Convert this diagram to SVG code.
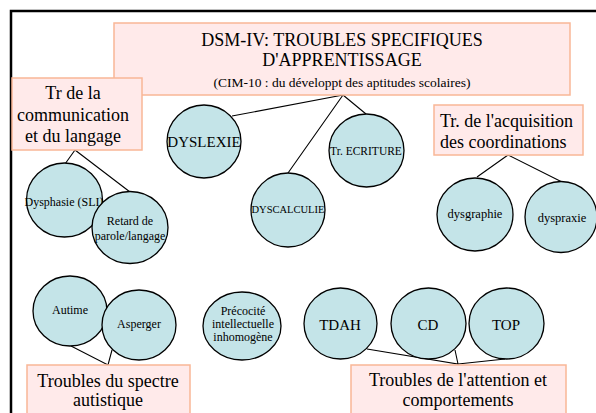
<svg xmlns="http://www.w3.org/2000/svg" width="596" height="413" viewBox="0 0 596 413">
<style>
.box{fill:#FFEAEA;stroke:#F9B796;stroke-width:1.5}
.c{fill:#C4E4E8;stroke:#000;stroke-width:1.3}
.t{fill:#000;text-anchor:middle}
.l{stroke:#000;stroke-width:1.1;fill:none}
</style>
<rect width="596" height="413" fill="#fff"/>
<path d="M11,413 V11 H596" fill="none" stroke="#000" stroke-width="2.5"/>

<g id="connectors">
<path class="l" d="M343,95 L232,116 M343,95 L366,114 M343,95 L288,173"/>
<path class="l" d="M75,150 L65,164 M75,150 L130,192"/>
<path class="l" d="M508,155 L477,177 M508,155 L562,182"/>
<path class="l" d="M71,346 L108,365 L112,350"/>
<path class="l" d="M367,349 L458,364 L455,350 M458,364 L505,359"/>
</g>

<g font-family="Liberation Serif, Times New Roman, serif">
<g id="title">
<rect class="box" x="114" y="23" width="456" height="72"/>
<text class="t" x="342" y="46" font-size="18">DSM-IV: TROUBLES SPECIFIQUES</text>
<text class="t" x="342" y="66" font-size="18">D'APPRENTISSAGE</text>
<text class="t" x="342" y="87" font-size="13.5">(CIM-10 : du développt des aptitudes scolaires)</text>
</g>

<g id="communication">
<rect class="box" x="12" y="78" width="130" height="72"/>
<text class="t" x="73" y="99" font-size="18">Tr de la</text>
<text class="t" x="73" y="121" font-size="18">communication</text>
<text class="t" x="73" y="142" font-size="18">et du langage</text>
</g>

<g id="dysphasie">
<ellipse class="c" cx="64.5" cy="200" rx="38" ry="37"/>
<text class="t" x="64" y="206" font-size="12">Dysphasie (SLI)</text>
</g>

<g id="retard">
<ellipse class="c" cx="130" cy="227.5" rx="38" ry="36"/>
<text class="t" x="130" y="225" font-size="12">Retard de</text>
<text class="t" x="130" y="240" font-size="12">parole/langage</text>
</g>

<g id="dyslexie">
<ellipse class="c" cx="204" cy="141.5" rx="37" ry="36.5"/>
<text class="t" x="204" y="147" font-size="15">DYSLEXIE</text>
</g>

<g id="ecriture">
<ellipse class="c" cx="366.5" cy="150.5" rx="37.5" ry="36.5"/>
<text class="t" x="366" y="155" font-size="11.5">Tr. ECRITURE</text>
</g>

<g id="dyscalculie">
<ellipse class="c" cx="288" cy="210" rx="37" ry="37"/>
<text class="t" x="288" y="213" font-size="10.5">DYSCALCULIE</text>
</g>

<g id="coordinations">
<rect class="box" x="434" y="105" width="149" height="50"/>
<text x="440" y="127" font-size="18">Tr. de l'acquisition</text>
<text x="440" y="148" font-size="18">des coordinations</text>
</g>

<g id="dysgraphie">
<ellipse class="c" cx="475" cy="214.5" rx="38" ry="36.5"/>
<text class="t" x="475" y="218" font-size="12.5">dysgraphie</text>
</g>

<g id="dyspraxie">
<ellipse class="c" cx="561" cy="217" rx="36" ry="35.5"/>
<text class="t" x="562" y="222" font-size="12.5">dyspraxie</text>
</g>

<g id="autime">
<ellipse class="c" cx="70" cy="311" rx="37" ry="35"/>
<text class="t" x="70" y="314" font-size="12">Autime</text>
</g>

<g id="asperger">
<ellipse class="c" cx="139" cy="325" rx="37" ry="35"/>
<text class="t" x="139" y="328" font-size="12">Asperger</text>
</g>

<g id="autistique">
<rect class="box" x="27" y="365" width="163" height="52"/>
<text class="t" x="108" y="387" font-size="18">Troubles du spectre</text>
<text class="t" x="108" y="406" font-size="18">autistique</text>
</g>

<g id="precocite">
<ellipse class="c" cx="242" cy="326" rx="39" ry="34"/>
<text class="t" x="243" y="315" font-size="12">Précocité</text>
<text class="t" x="243" y="328" font-size="12">intellectuelle</text>
<text class="t" x="243" y="341" font-size="12">inhomogène</text>
</g>

<g id="tdah">
<ellipse class="c" cx="340.5" cy="323.5" rx="36.5" ry="35.5"/>
<text class="t" x="340" y="330" font-size="15">TDAH</text>
</g>

<g id="cd">
<ellipse class="c" cx="428.5" cy="323.5" rx="37.5" ry="35.5"/>
<text class="t" x="428" y="330" font-size="15">CD</text>
</g>

<g id="top">
<ellipse class="c" cx="506.5" cy="323.5" rx="37.5" ry="35.5"/>
<text class="t" x="506" y="330" font-size="15">TOP</text>
</g>

<g id="attention">
<rect class="box" x="351" y="365" width="215" height="52"/>
<text class="t" x="458" y="386" font-size="18">Troubles de l'attention et</text>
<text class="t" x="458" y="406" font-size="18">comportements</text>
</g>
</g>
</svg>
